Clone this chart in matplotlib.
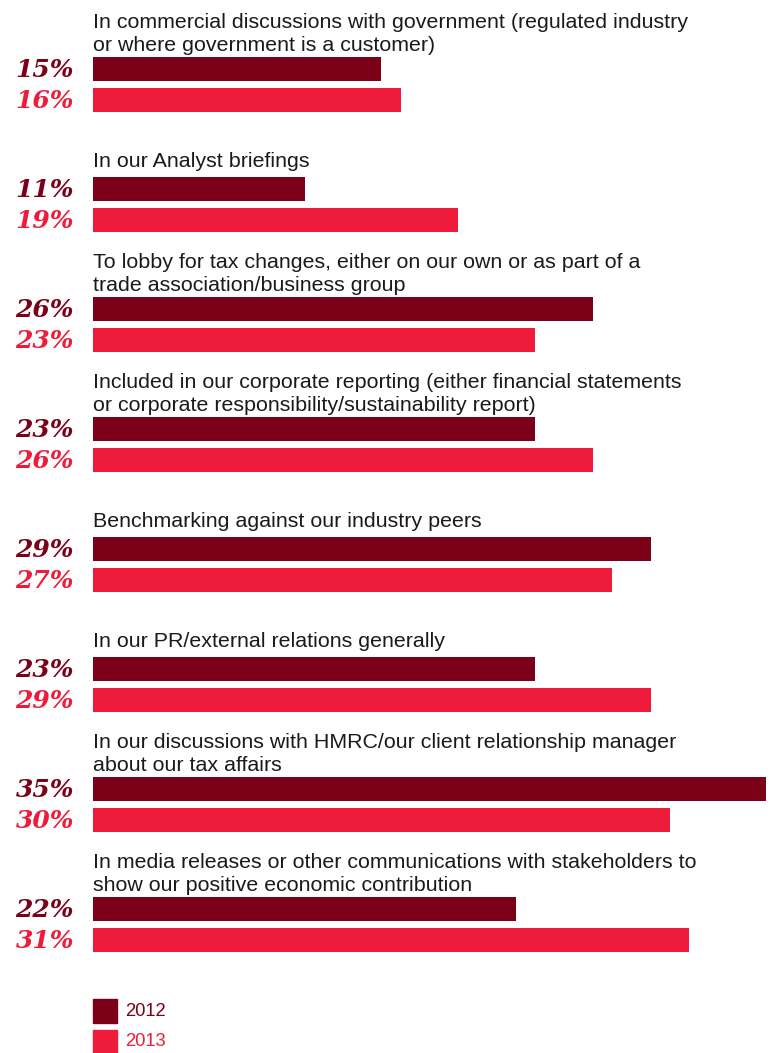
import matplotlib
matplotlib.use("Agg")
import matplotlib.pyplot as plt
from matplotlib.patches import Rectangle

# Survey responses, share of companies (%)
categories = [
    "In commercial discussions with government (regulated industry\nor where government is a customer)",
    "In our Analyst briefings",
    "To lobby for tax changes, either on our own or as part of a\ntrade association/business group",
    "Included in our corporate reporting (either financial statements\nor corporate responsibility/sustainability report)",
    "Benchmarking against our industry peers",
    "In our PR/external relations generally",
    "In our discussions with HMRC/our client relationship manager\nabout our tax affairs",
    "In media releases or other communications with stakeholders to\nshow our positive economic contribution",
]
values_2012 = [15, 11, 26, 23, 29, 23, 35, 22]
values_2013 = [16, 19, 23, 26, 27, 29, 30, 31]
years = ["2012", "2013"]

DARK = "#7D0019"
RED = "#EE1C3A"
TEXT = "#1A1A1A"

W, H = 771, 1053
fig = plt.figure(figsize=(W / 100, H / 100), dpi=100)
ax = fig.add_axes([0, 0, 1, 1])

# x axis in percent, with 0% at pixel 93 and 35% at pixel 766
px_per_pct = (766 - 93) / 35.0
x0 = -93 / px_per_pct
ax.set_xlim(x0, x0 + W / px_per_pct)
ax.set_ylim(H, 0)
ax.axis("off")

def px(x):
    return x0 + x / px_per_pct

bar_h = 24
for i, (cat, a, b) in enumerate(zip(categories, values_2012, values_2013)):
    top = 57 + 120 * i
    y1 = top + bar_h / 2
    y2 = top + 31 + bar_h / 2
    ax.barh(y1, a, height=bar_h, left=0, color=DARK)
    ax.barh(y2, b, height=bar_h, left=0, color=RED)
    gap = 6 if "\n" in cat else 10
    ax.text(px(93), top - gap, cat, ha="left", va="baseline", fontsize=15.4,
            family="Liberation Sans", color=TEXT, linespacing=1.27)
    for y, v, c in ((y1, a, DARK), (y2, b, RED)):
        ax.text(px(74), y + 1, f"{v}%", ha="right", va="center", fontsize=18,
                family="DejaVu Serif", weight="bold", style="italic", color=c)

# legend squares
for j, (yr, c) in enumerate(zip(years, [DARK, RED])):
    ytop = 999 + 31 * j
    ax.add_patch(Rectangle((px(93), ytop), 24 / px_per_pct, 24, color=c))
    ax.text(px(125), ytop + 12, yr, ha="left", va="center", fontsize=13.2,
            family="Liberation Sans", color=c)

fig.savefig("out.png", dpi=100)
